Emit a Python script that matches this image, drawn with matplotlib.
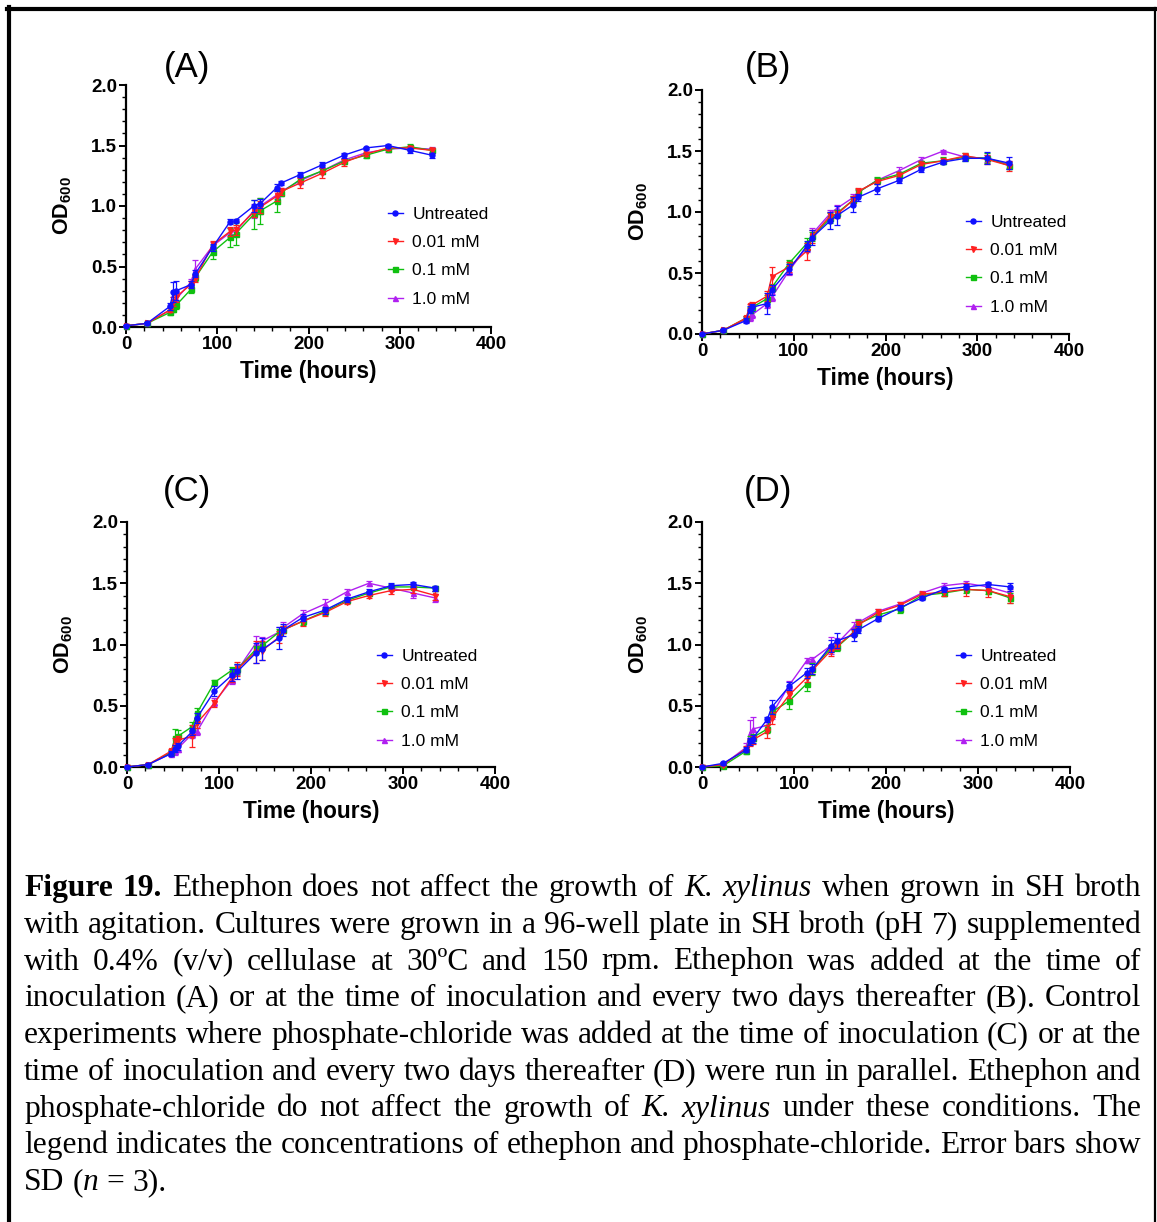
import matplotlib
matplotlib.use("Agg")
import matplotlib.pyplot as plt
from matplotlib.lines import Line2D
from matplotlib.ticker import MultipleLocator
import numpy as np

W, H = 1157, 1222
DPI = 100

plt.rcParams['font.family'] = ['Liberation Sans', 'DejaVu Sans']
plt.rcParams['mathtext.fontset'] = 'custom'
plt.rcParams['mathtext.rm'] = 'Liberation Sans'
plt.rcParams['mathtext.bf'] = 'Liberation Sans:bold'

# ---------------- data ----------------
time_h = [0, 23, 48, 52, 55, 71, 76, 95, 114, 120, 140, 147, 165, 170, 191, 215, 239, 263, 287, 311, 335]

series_labels = ["Untreated", "0.01 mM", "0.1 mM", "1.0 mM"]
panel_labels = ["(A)", "(B)", "(C)", "(D)"]

# Panel A
a_untreated = [0.01, 0.03, 0.17, 0.29, 0.30, 0.35, 0.44, 0.66, 0.87, 0.88, 1.00, 1.02, 1.15, 1.19, 1.26, 1.34, 1.42, 1.48, 1.50, 1.46, 1.42]
a_001 = [0.01, 0.03, 0.14, 0.21, 0.25, 0.35, 0.40, 0.68, 0.79, 0.80, 0.95, 0.99, 1.08, 1.12, 1.19, 1.27, 1.36, 1.43, 1.48, 1.48, 1.46]
a_01 = [0.01, 0.03, 0.12, 0.15, 0.18, 0.31, 0.41, 0.62, 0.74, 0.77, 0.93, 0.96, 1.04, 1.11, 1.22, 1.29, 1.37, 1.42, 1.47, 1.49, 1.46]
a_10 = [0.01, 0.03, 0.14, 0.20, 0.23, 0.37, 0.48, 0.67, 0.78, 0.79, 0.96, 1.00, 1.09, 1.12, 1.21, 1.29, 1.38, 1.44, 1.47, 1.48, 1.47]
a_untreated_sd = [0.005, 0.01, 0.03, 0.08, 0.08, 0.03, 0.03, 0.03, 0.02, 0.01, 0.05, 0.04, 0.03, 0.02, 0.02, 0.02, 0.02, 0.01, 0.01, 0.02, 0.02]
a_001_sd = [0.005, 0.01, 0.02, 0.04, 0.04, 0.03, 0.03, 0.03, 0.04, 0.04, 0.04, 0.05, 0.04, 0.03, 0.04, 0.04, 0.03, 0.02, 0.02, 0.02, 0.02]
a_01_sd = [0.005, 0.01, 0.02, 0.03, 0.03, 0.03, 0.03, 0.06, 0.08, 0.09, 0.12, 0.11, 0.09, 0.03, 0.03, 0.02, 0.02, 0.02, 0.01, 0.02, 0.02]
a_10_sd = [0.005, 0.01, 0.03, 0.05, 0.05, 0.03, 0.07, 0.03, 0.04, 0.04, 0.06, 0.07, 0.03, 0.03, 0.03, 0.02, 0.02, 0.02, 0.02, 0.02, 0.02]

# Panel B
b_untreated = [0.00, 0.03, 0.11, 0.20, 0.22, 0.25, 0.36, 0.53, 0.72, 0.79, 0.93, 0.97, 1.06, 1.12, 1.19, 1.26, 1.35, 1.41, 1.44, 1.44, 1.40]
b_001 = [0.00, 0.03, 0.13, 0.23, 0.24, 0.31, 0.47, 0.55, 0.68, 0.80, 0.97, 0.98, 1.10, 1.17, 1.25, 1.30, 1.39, 1.42, 1.46, 1.43, 1.38]
b_01 = [0.00, 0.03, 0.13, 0.20, 0.22, 0.29, 0.38, 0.58, 0.74, 0.80, 0.95, 0.99, 1.10, 1.16, 1.26, 1.31, 1.40, 1.42, 1.45, 1.44, 1.38]
b_10 = [0.00, 0.03, 0.12, 0.14, 0.16, 0.25, 0.30, 0.52, 0.71, 0.82, 0.99, 1.03, 1.12, 1.16, 1.26, 1.34, 1.43, 1.50, 1.45, 1.44, 1.39]
b_untreated_sd = [0.005, 0.01, 0.02, 0.03, 0.03, 0.09, 0.04, 0.04, 0.04, 0.06, 0.07, 0.08, 0.06, 0.03, 0.04, 0.02, 0.02, 0.02, 0.02, 0.05, 0.05]
b_001_sd = [0.005, 0.01, 0.02, 0.02, 0.02, 0.04, 0.08, 0.04, 0.07, 0.05, 0.03, 0.03, 0.03, 0.03, 0.02, 0.02, 0.02, 0.02, 0.02, 0.04, 0.04]
b_01_sd = [0.005, 0.01, 0.02, 0.02, 0.02, 0.03, 0.03, 0.03, 0.05, 0.04, 0.04, 0.03, 0.03, 0.03, 0.03, 0.02, 0.02, 0.03, 0.03, 0.04, 0.03]
b_10_sd = [0.005, 0.01, 0.02, 0.03, 0.03, 0.04, 0.03, 0.04, 0.04, 0.05, 0.03, 0.03, 0.03, 0.02, 0.02, 0.03, 0.02, 0.01, 0.02, 0.03, 0.03]

# Panel C
c_untreated = [0.00, 0.02, 0.11, 0.15, 0.17, 0.29, 0.40, 0.62, 0.75, 0.78, 0.93, 0.96, 1.05, 1.12, 1.22, 1.28, 1.37, 1.43, 1.48, 1.49, 1.46]
c_001 = [0.00, 0.02, 0.13, 0.21, 0.22, 0.25, 0.36, 0.52, 0.73, 0.80, 0.94, 0.95, 1.06, 1.12, 1.19, 1.26, 1.35, 1.40, 1.44, 1.45, 1.40]
c_01 = [0.00, 0.02, 0.12, 0.24, 0.25, 0.33, 0.44, 0.69, 0.79, 0.80, 0.96, 0.99, 1.10, 1.12, 1.19, 1.27, 1.36, 1.42, 1.47, 1.47, 1.46]
c_10 = [0.00, 0.02, 0.11, 0.13, 0.15, 0.27, 0.29, 0.53, 0.71, 0.79, 1.01, 1.03, 1.10, 1.14, 1.25, 1.33, 1.43, 1.50, 1.46, 1.42, 1.38]
c_untreated_sd = [0.005, 0.01, 0.02, 0.03, 0.03, 0.03, 0.04, 0.04, 0.05, 0.06, 0.08, 0.09, 0.09, 0.05, 0.03, 0.03, 0.02, 0.02, 0.02, 0.02, 0.02]
c_001_sd = [0.005, 0.01, 0.02, 0.03, 0.03, 0.09, 0.04, 0.03, 0.04, 0.06, 0.09, 0.08, 0.05, 0.03, 0.04, 0.03, 0.02, 0.02, 0.03, 0.03, 0.04]
c_01_sd = [0.005, 0.01, 0.02, 0.07, 0.05, 0.04, 0.04, 0.02, 0.03, 0.04, 0.03, 0.03, 0.03, 0.03, 0.03, 0.03, 0.02, 0.02, 0.02, 0.02, 0.02]
c_10_sd = [0.005, 0.01, 0.02, 0.03, 0.03, 0.03, 0.03, 0.03, 0.03, 0.04, 0.06, 0.03, 0.04, 0.04, 0.03, 0.04, 0.02, 0.02, 0.02, 0.04, 0.03]

# Panel D
d_untreated = [0.00, 0.03, 0.14, 0.21, 0.23, 0.39, 0.49, 0.66, 0.77, 0.80, 0.99, 1.03, 1.08, 1.12, 1.21, 1.30, 1.38, 1.45, 1.47, 1.49, 1.47]
d_001 = [0.00, 0.02, 0.15, 0.20, 0.22, 0.29, 0.40, 0.59, 0.73, 0.79, 0.95, 0.99, 1.10, 1.16, 1.26, 1.32, 1.41, 1.43, 1.45, 1.44, 1.39]
d_01 = [0.00, 0.01, 0.13, 0.22, 0.24, 0.31, 0.45, 0.54, 0.68, 0.80, 0.97, 0.98, 1.10, 1.17, 1.24, 1.29, 1.40, 1.42, 1.45, 1.44, 1.38]
d_10 = [0.00, 0.02, 0.16, 0.28, 0.31, 0.34, 0.43, 0.67, 0.87, 0.88, 0.99, 1.01, 1.15, 1.18, 1.27, 1.33, 1.42, 1.48, 1.50, 1.47, 1.42]
d_untreated_sd = [0.005, 0.01, 0.02, 0.03, 0.03, 0.02, 0.06, 0.03, 0.04, 0.04, 0.05, 0.06, 0.05, 0.03, 0.02, 0.02, 0.02, 0.02, 0.02, 0.02, 0.03]
d_001_sd = [0.005, 0.01, 0.02, 0.03, 0.03, 0.05, 0.05, 0.03, 0.04, 0.03, 0.04, 0.03, 0.03, 0.03, 0.03, 0.03, 0.02, 0.03, 0.05, 0.05, 0.05]
d_01_sd = [0.005, 0.01, 0.02, 0.03, 0.03, 0.03, 0.04, 0.07, 0.06, 0.05, 0.03, 0.03, 0.03, 0.03, 0.03, 0.03, 0.02, 0.02, 0.03, 0.03, 0.04]
d_10_sd = [0.005, 0.01, 0.04, 0.10, 0.10, 0.03, 0.04, 0.03, 0.02, 0.02, 0.07, 0.04, 0.03, 0.03, 0.02, 0.02, 0.02, 0.02, 0.02, 0.03, 0.03]

panels = [
    ([a_untreated, a_001, a_01, a_10], [a_untreated_sd, a_001_sd, a_01_sd, a_10_sd]),
    ([b_untreated, b_001, b_01, b_10], [b_untreated_sd, b_001_sd, b_01_sd, b_10_sd]),
    ([c_untreated, c_001, c_01, c_10], [c_untreated_sd, c_001_sd, c_01_sd, c_10_sd]),
    ([d_untreated, d_001, d_01, d_10], [d_untreated_sd, d_001_sd, d_01_sd, d_10_sd]),
]

colors = ["#1010ff", "#ff2020", "#10c010", "#b020f0"]
markers = ["o", "v", "s", "^"]

# ---------------- layout (pixels) ----------------
axes_px = [  # left, right, top, bottom
    (126, 491, 85, 327),
    (702, 1069, 90, 334),
    (127, 495, 522, 767),
    (702, 1070, 522, 767),
]
title_px = [(187, 67), (768, 67), (187, 491), (768, 491)]
legend_px = [(388, 207), (966, 215), (377, 649), (956, 649)]

fig = plt.figure(figsize=(W / DPI, H / DPI), dpi=DPI)

def fx(x):
    return x / W

def fy(y):
    return 1 - y / H

for i, (vals, sds) in enumerate(panels):
    l, r, t, b = axes_px[i]
    ax = fig.add_axes([fx(l), fy(b), (r - l) / W, (b - t) / H])
    handles = [None] * 4
    for k in [3, 2, 1, 0]:
        ax.errorbar(time_h, vals[k], yerr=sds[k], color=colors[k], marker=markers[k],
                    markersize=3.6, lw=1.0, elinewidth=0.9, capsize=2.0, capthick=0.9,
                    zorder=3 + (3 - k), clip_on=False)
        handles[k] = Line2D([0], [0], color=colors[k], marker=markers[k], markersize=3.6, lw=1.0)
    ax.set_xlim(0, 400)
    ax.set_ylim(0, 2.0)
    ax.xaxis.set_major_locator(MultipleLocator(100))
    ax.xaxis.set_minor_locator(MultipleLocator(20))
    ax.yaxis.set_major_locator(MultipleLocator(0.5))
    ax.yaxis.set_minor_locator(MultipleLocator(0.1))
    ax.yaxis.set_major_formatter(matplotlib.ticker.FormatStrFormatter('%.1f'))
    for s in ['top', 'right']:
        ax.spines[s].set_visible(False)
    for s in ['left', 'bottom']:
        ax.spines[s].set_linewidth(1.6)
    ax.tick_params(which='major', direction='out', length=5, width=1.4, labelsize=13.5, pad=1.5)
    ax.tick_params(which='minor', direction='out', length=3, width=1.0)
    for lab in ax.get_xticklabels() + ax.get_yticklabels():
        lab.set_fontweight('bold')
    ax.set_xlabel("Time (hours)", fontsize=16.3, fontweight='bold', labelpad=5)
    ax.set_ylabel(r"$\mathbf{OD}_{\mathbf{600}}$", fontsize=15.5, labelpad=12)
    fig.text(fx(title_px[i][0]), fy(title_px[i][1]), panel_labels[i], fontsize=25,
             ha='center', va='center')
    lx, ly = legend_px[i]
    fig.legend(handles, series_labels, loc='upper left', bbox_to_anchor=(fx(lx), fy(ly)),
               frameon=False, fontsize=12.5, handlelength=0.85, handletextpad=0.55,
               labelspacing=0.75, borderpad=0, borderaxespad=0)

# ---------------- border ----------------
fig.add_artist(Line2D([fx(7), fx(1157)], [fy(9), fy(9)], color='black', lw=3.0,
                      transform=fig.transFigure))
fig.add_artist(Line2D([fx(9), fx(9)], [fy(7), fy(1222)], color='black', lw=3.0,
                      transform=fig.transFigure))
fig.add_artist(Line2D([fx(1154.5), fx(1154.5)], [fy(8), fy(1222)], color='black', lw=1.6,
                      transform=fig.transFigure))

# ---------------- caption (justified) ----------------
caption_lines = [
    "#Figure 19.# Ethephon does not affect the growth of _K. xylinus_ when grown in SH broth",
    "with agitation. Cultures were grown in a 96-well plate in SH broth (pH 7) supplemented",
    "with 0.4% (v/v) cellulase at 30\u00baC and 150 rpm.  Ethephon was added at the time of",
    "inoculation (A) or at the time of inoculation and every two days thereafter (B). Control",
    "experiments where phosphate-chloride was added at the time of inoculation (C) or at the",
    "time of inoculation and every two days thereafter (D) were run in parallel. Ethephon and",
    "phosphate-chloride do not affect the growth of _K. xylinus_ under these conditions. The",
    "legend indicates the concentrations of ethephon and phosphate-chloride. Error bars show",
    "SD (_n_ = 3).",
]
cap_left, cap_right = 24, 1141
cap_base0, cap_step = 896, 36.75
cap_size = 22.7
serif = ['Liberation Serif', 'DejaVu Serif']

renderer = fig.canvas.get_renderer()

def parse_line(line, state):
    words = []
    for w in line.split():
        segs = []
        cur = ""
        for ch in w:
            if ch in "#_":
                if cur:
                    segs.append((cur, dict(state)))
                    cur = ""
                if ch == "#":
                    state['bold'] = not state['bold']
                else:
                    state['italic'] = not state['italic']
            else:
                cur += ch
        if cur:
            segs.append((cur, dict(state)))
        words.append(segs)
    return words

def make_text(s, st):
    return fig.text(0, 0, s, fontsize=cap_size, family=serif,
                    fontweight='bold' if st['bold'] else 'normal',
                    fontstyle='italic' if st['italic'] else 'normal',
                    ha='left', va='baseline')

state = {'bold': False, 'italic': False}
for li, line in enumerate(caption_lines):
    words = parse_line(line, state)
    items = []
    word_widths = []
    for segs in words:
        ts = []
        wsum = 0
        for s, st in segs:
            t = make_text(s, st)
            wpx = t.get_window_extent(renderer).width
            ts.append((t, wpx))
            wsum += wpx
        items.append(ts)
        word_widths.append(wsum)
    total = sum(word_widths)
    n = len(words)
    last = (li == len(caption_lines) - 1)
    if last or n < 2:
        sp = make_text("a a", {'bold': False, 'italic': False})
        sp2 = make_text("aa", {'bold': False, 'italic': False})
        gap = sp.get_window_extent(renderer).width - sp2.get_window_extent(renderer).width
        sp.remove(); sp2.remove()
    else:
        gap = ((cap_right - cap_left) - total) / (n - 1)
    x = cap_left
    ybase = cap_base0 + li * cap_step
    for ts, ww in zip(items, word_widths):
        xx = x
        for t, wpx in ts:
            t.set_position((fx(xx), fy(ybase)))
            xx += wpx
        x += ww + gap

fig.savefig("out.png", dpi=DPI)
